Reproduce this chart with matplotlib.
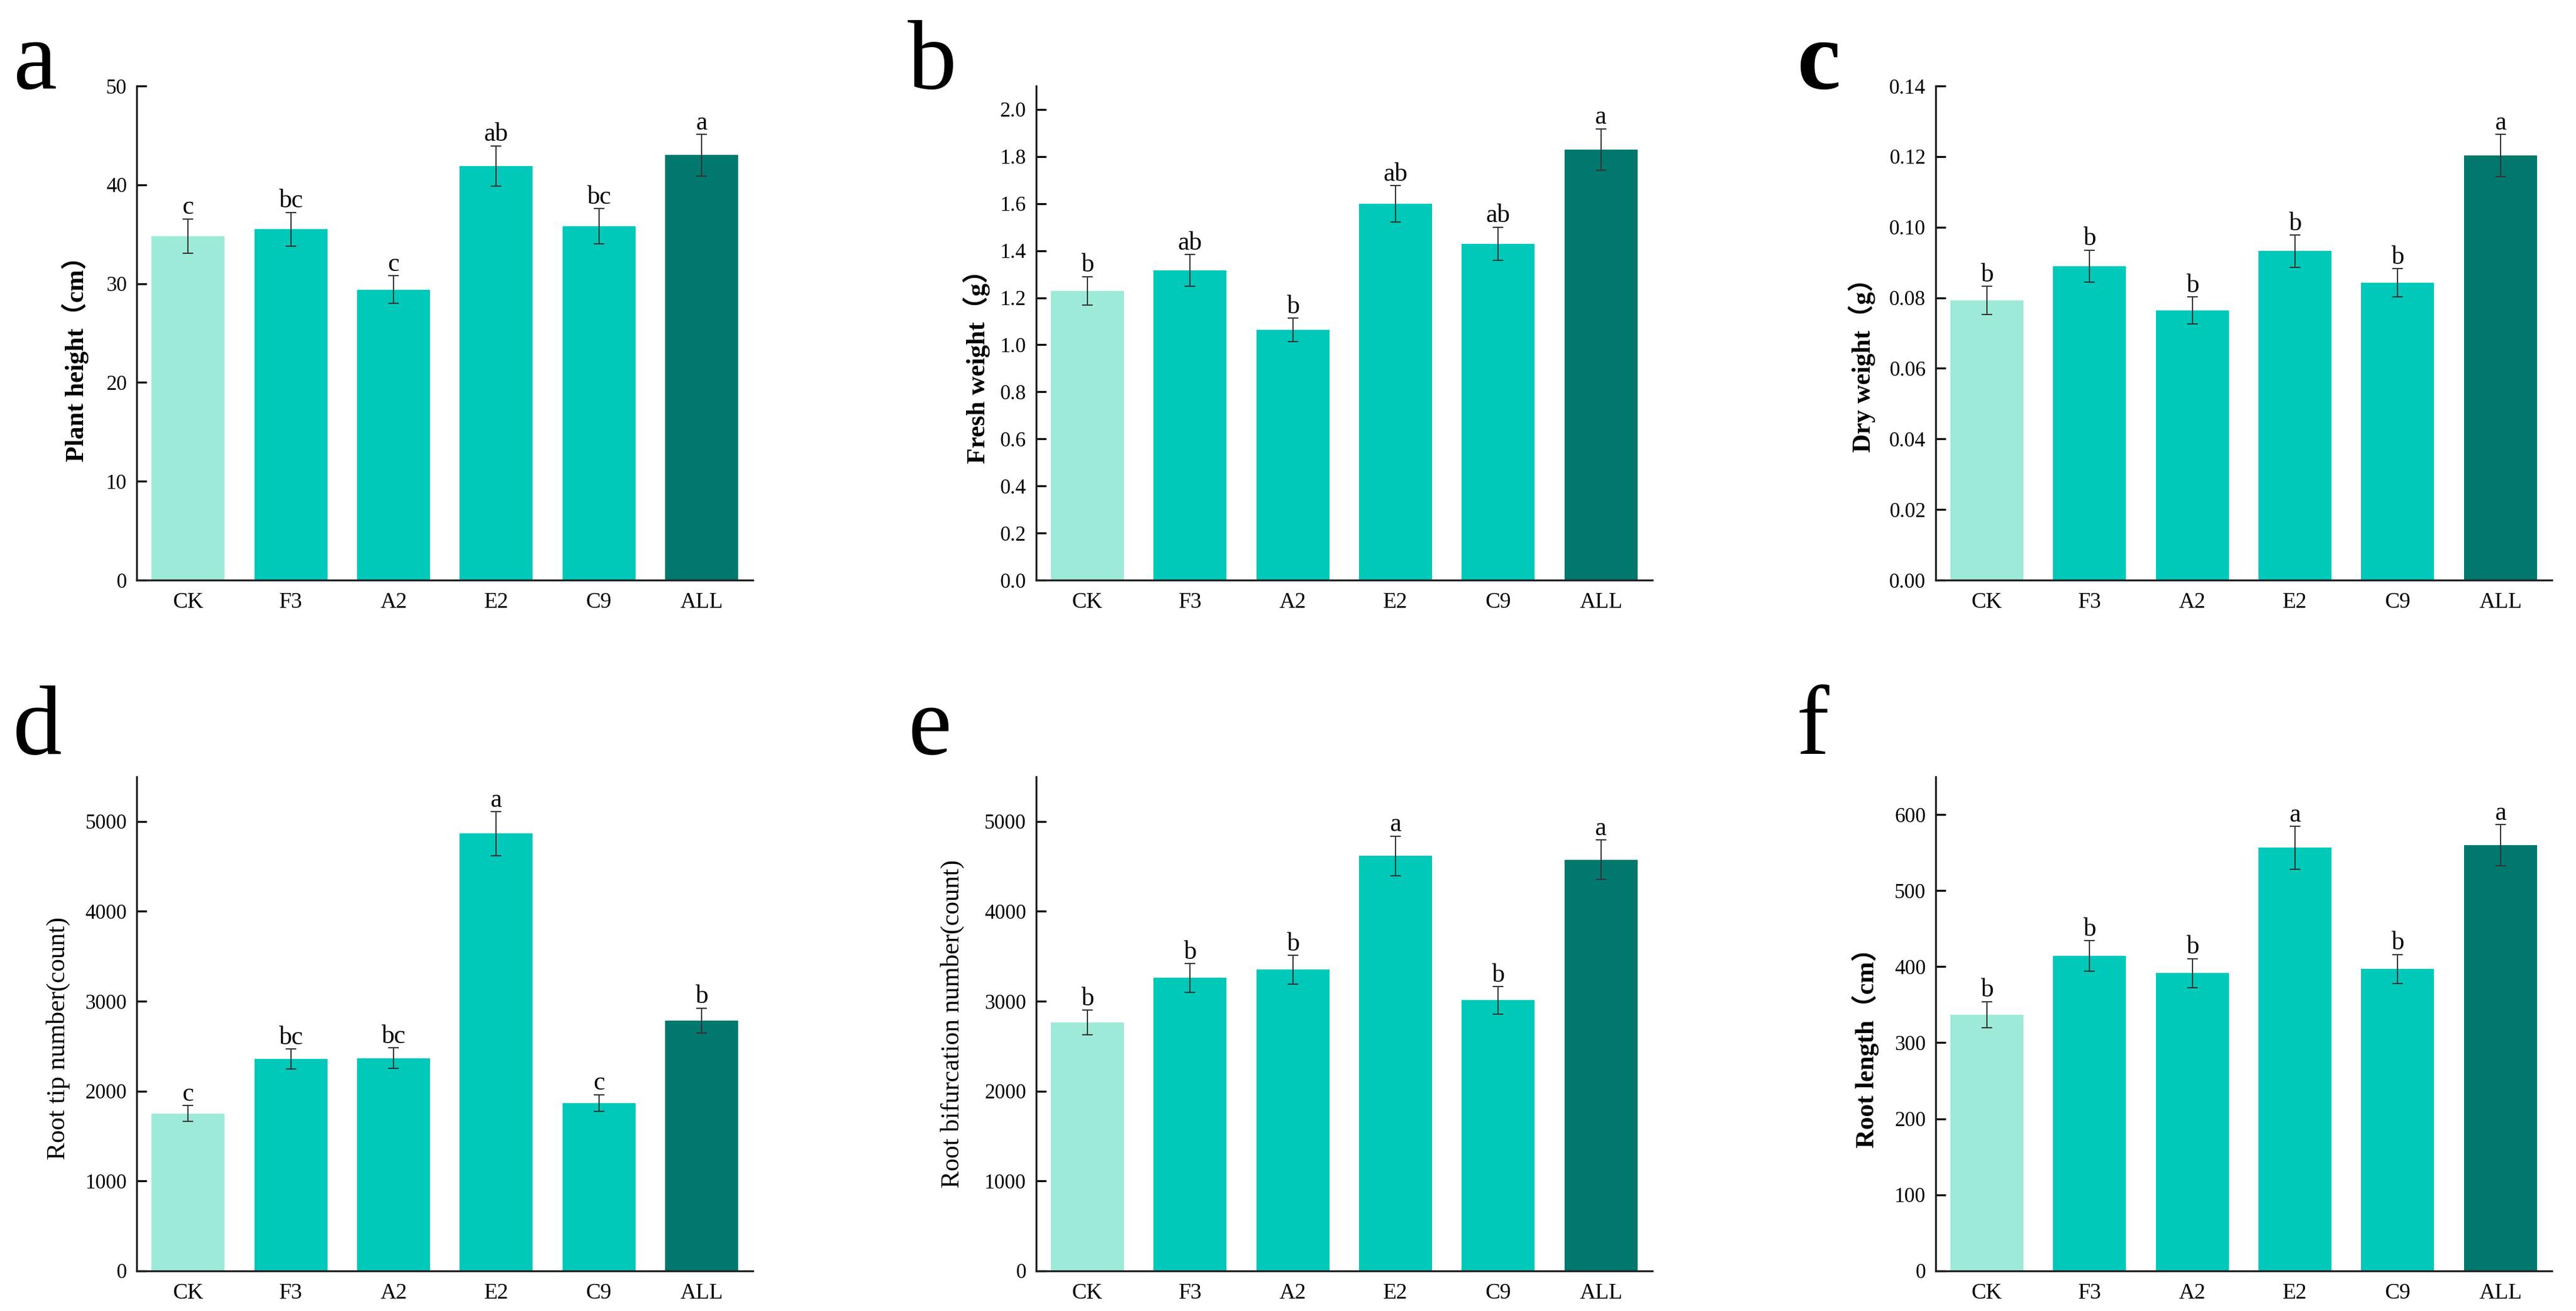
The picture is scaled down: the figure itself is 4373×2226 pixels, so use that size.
import numpy as np
import matplotlib.pyplot as plt

plt.rcParams['font.family'] = ['Liberation Serif', 'Noto Sans CJK SC', 'DejaVu Sans']

groups = ['CK', 'F3', 'A2', 'E2', 'C9', 'ALL']
bar_colors = ['#9EEAD8', '#00C9B9', '#00C9B9', '#00C9B9', '#00C9B9', '#00786E']

plant_height = [34.8, 35.5, 29.4, 41.9, 35.8, 43.0]
plant_height_err = [1.75, 1.7, 1.4, 2.05, 1.8, 2.1]
plant_height_sig = ['c', 'bc', 'c', 'ab', 'bc', 'a']

fresh_weight = [1.23, 1.316, 1.063, 1.60, 1.43, 1.83]
fresh_weight_err = [0.06, 0.067, 0.05, 0.077, 0.07, 0.088]
fresh_weight_sig = ['b', 'ab', 'b', 'ab', 'ab', 'a']

dry_weight = [0.0792, 0.0890, 0.0764, 0.0932, 0.0843, 0.1203]
dry_weight_err = [0.004, 0.0045, 0.0038, 0.0046, 0.004, 0.006]
dry_weight_sig = ['b', 'b', 'b', 'b', 'b', 'a']

root_tips = [1750, 2357, 2367, 4867, 1869, 2785]
root_tips_err = [87, 110, 115, 245, 92, 138]
root_tips_sig = ['c', 'bc', 'bc', 'a', 'c', 'b']

root_forks = [2762, 3260, 3352, 4618, 3011, 4576]
root_forks_err = [138, 160, 160, 221, 152, 221]
root_forks_sig = ['b', 'b', 'b', 'a', 'b', 'a']

root_length = [337, 414, 391.5, 556.4, 397, 560]
root_length_err = [17, 20, 19, 28, 19, 27]
root_length_sig = ['b', 'b', 'b', 'a', 'b', 'a']

# (letter, values, errors, sig letters, ylabel, bold label, ylim, ticks, tick format)
panels = [
    ('a', plant_height, plant_height_err, plant_height_sig, 'Plant height（cm）', True,
     50, np.arange(0, 51, 10), '{:.0f}'),
    ('b', fresh_weight, fresh_weight_err, fresh_weight_sig, 'Fresh weight（g）', True,
     2.1, np.arange(0, 2.01, 0.2), '{:.1f}'),
    ('c', dry_weight, dry_weight_err, dry_weight_sig, 'Dry weight（g）', True,
     0.14, np.arange(0, 0.141, 0.02), '{:.2f}'),
    ('d', root_tips, root_tips_err, root_tips_sig, 'Root tip number(count)', False,
     5500, np.arange(0, 5001, 1000), '{:.0f}'),
    ('e', root_forks, root_forks_err, root_forks_sig, 'Root bifurcation number(count)', False,
     5500, np.arange(0, 5001, 1000), '{:.0f}'),
    ('f', root_length, root_length_err, root_length_sig, 'Root length（cm）', True,
     650, np.arange(0, 601, 100), '{:.0f}'),
]

lefts = [0.0531, 0.4022, 0.7514]
bottoms = [0.5575, 0.0307]
label_x = [-0.100, -0.097, -0.120, -0.128, -0.136, -0.114]
label_y = [0.46, 0.445, 0.447, 0.47, 0.5, 0.463]
letter_x = [0.005, 0.3524, 0.6975]
letter_y = [0.9326, 0.425]

fig = plt.figure(figsize=(4373 / 300, 2226 / 300), dpi=300)
x = np.arange(len(groups))

for i, (tag, vals, errs, sigs, ylab, bold, ytop, ticks, fmt) in enumerate(panels):
    row, col = divmod(i, 3)
    ax = fig.add_axes([lefts[col], bottoms[row], 0.2392, 0.3769])
    ax.bar(x, vals, width=0.71, color=bar_colors, zorder=2)
    ax.errorbar(x, vals, yerr=errs, fmt='none', ecolor='#333333', elinewidth=0.5,
                capsize=2.2, capthick=0.5, zorder=3)
    for xi, v, e, s in zip(x, vals, errs, sigs):
        ax.annotate(s, (xi, v + e), xytext=(0, 2), textcoords='offset points',
                    ha='center', va='baseline', fontsize=10.5)
    ax.set_xlim(-0.5, 5.5)
    ax.set_ylim(0, ytop)
    ax.set_yticks(ticks)
    ax.set_yticklabels([fmt.format(t) for t in ticks])
    ax.set_xticks(x)
    ax.set_xticklabels(groups)
    ax.tick_params(axis='y', direction='in', length=4, width=0.8, labelsize=8.5, pad=4)
    ax.tick_params(axis='x', length=0, labelsize=9, pad=5)
    for side in ['top', 'right']:
        ax.spines[side].set_visible(False)
    for side in ['left', 'bottom']:
        ax.spines[side].set_linewidth(0.8)
        ax.spines[side].set_color('#222222')
    ax.set_ylabel(ylab, fontsize=10.5, fontweight='bold' if bold else 'normal', va='center')
    ax.yaxis.set_label_coords(label_x[i], label_y[i])
    fig.text(letter_x[col], letter_y[row], tag, fontsize=40, va='baseline',
             fontweight='bold' if tag == 'c' else 'normal')

fig.savefig('out.png', dpi=300)
